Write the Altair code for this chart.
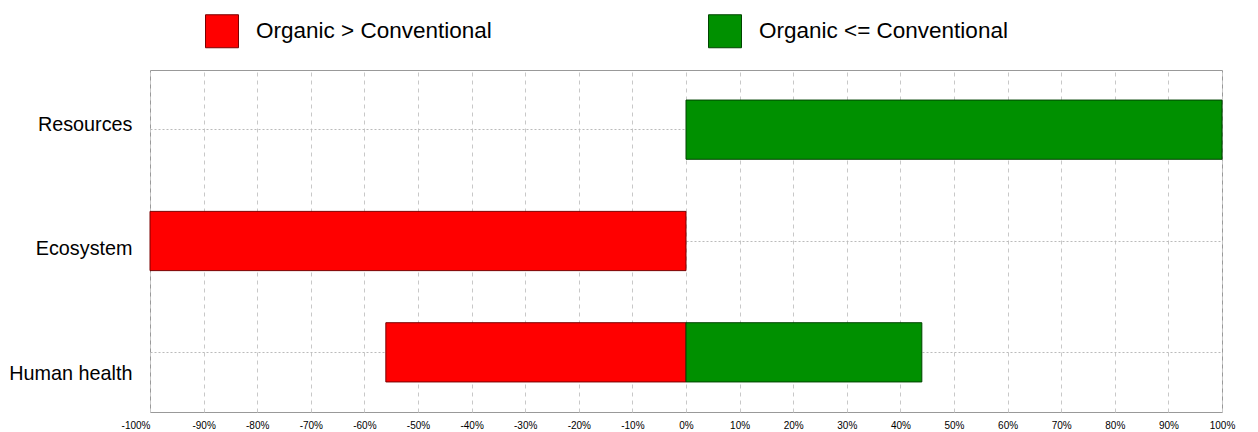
import altair as alt
import pandas as pd

categories = ["Resources", "Ecosystem", "Human health"]
red_values = [0, -100, -56]
green_values = [100, 0, 44]
series = ["Organic > Conventional", "Organic <= Conventional"]
colors = ["#ff0000", "#009000"]
stroke_colors = ["#7a0000", "#004400"]
tick_values = list(range(-100, 101, 10))

rows = []
for c, r, g in zip(categories, red_values, green_values):
    if r != 0:
        rows.append({"category": c, "start": r, "end": 0, "series": series[0]})
    if g != 0:
        rows.append({"category": c, "start": 0, "end": g, "series": series[1]})
df = pd.DataFrame(rows)

chart = alt.Chart(df).mark_bar(strokeWidth=1).encode(
    y=alt.Y(
        "category:N",
        sort=categories,
        title=None,
        scale=alt.Scale(paddingInner=0.468, paddingOuter=0.27),
        axis=alt.Axis(
            labelFontSize=19.8,
            labelFont="Liberation Sans",
            labelColor="black",
            labelPadding=18,
            labelOffset={
                "condition": [
                    {"test": "datum.value == 'Resources'", "value": -5},
                    {"test": "datum.value == 'Human health'", "value": 22},
                ],
                "value": 8,
            },
            ticks=False,
            domain=False,
            grid=True,
            gridDash=[2, 2],
            gridColor="#bbbbbb",
            bandPosition=0.5,
            minExtent=142,
            maxExtent=142,
        ),
    ),
    x=alt.X(
        "start:Q",
        title=None,
        scale=alt.Scale(domain=[-100, 100], nice=False, zero=False),
        axis=alt.Axis(
            values=tick_values,
            labelExpr="datum.value + '%'",
            labelFontSize=10,
            labelFont="Liberation Sans",
            labelColor="black",
            labelPadding=8,
            labelFlush=False,
            labelAlign={
                "condition": {"test": "datum.value == -100", "value": "right"},
                "value": "center",
            },
            ticks=False,
            domain=False,
            grid=True,
            gridColor="#c8c8c8",
            gridDash=[4, 4],
            labelOverlap=False,
        ),
    ),
    x2="end:Q",
    color=alt.Color(
        "series:N",
        scale=alt.Scale(domain=series, range=colors),
        legend=alt.Legend(
            title=None,
            orient="none",
            legendX=55,
            legendY=-56,
            direction="horizontal",
            symbolType="square",
            symbolSize=1089,
            symbolStrokeColor="#333333",
            symbolStrokeWidth=1,
            symbolOpacity=1,
            labelFontSize=22.5,
            labelFont="Liberation Sans",
            labelColor="black",
            labelOffset=17,
            columnPadding=214,
            labelLimit=400,
        ),
    ),
    stroke=alt.Stroke(
        "series:N",
        scale=alt.Scale(domain=series, range=stroke_colors),
        legend=None,
    ),
).properties(
    width=1072,
    height=342,
    padding={"left": 0, "top": 6, "right": 5, "bottom": 0},
).configure_view(
    stroke="#999999",
    strokeWidth=1,
)

chart.save("out.html", embed_options={"renderer": "svg", "actions": False})
